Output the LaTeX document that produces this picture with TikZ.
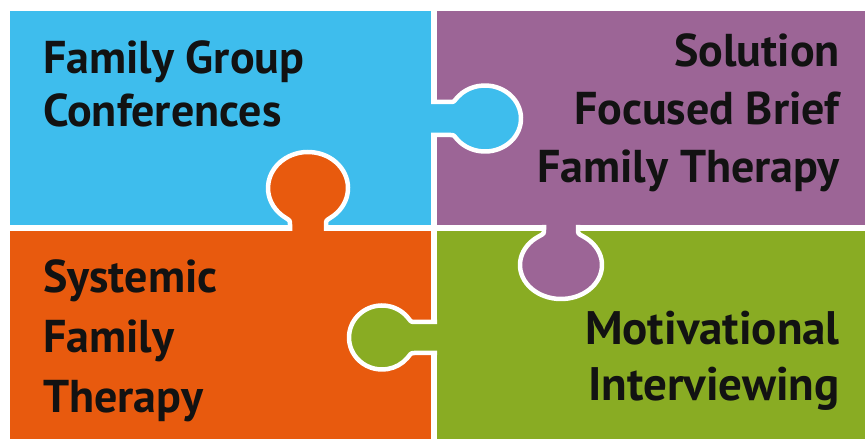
\documentclass[tikz,border=0pt]{standalone}
\usepackage{fontspec}
\setmainfont{PT Sans}
\usepackage{tikz}
\usetikzlibrary{positioning}
\definecolor{groupblue}{RGB}{62,189,237}
\definecolor{briefpurple}{RGB}{156,101,150}
\definecolor{systemorange}{RGB}{232,90,14}
\definecolor{interviewgreen}{RGB}{137,172,35}

% one puzzle tab: #1 colour, #2 edge point, #3 direction,
% #4 bulb offset, #5/#6 bulb radii, #7 half neck width
\newcommand{\puzzletab}[7]{%
  \begin{scope}[shift={#2}, rotate=#3]
    \pgfmathsetmacro\kt{180+asin((#7+5)/#6)}
    \pgfmathsetmacro\ku{720-\kt}
    \pgfmathsetmacro\px{#4+#5*cos(\kt)}
    \pgfmathsetmacro\py{#6*sin(\kt)}
    \pgfmathsetmacro\dx{-0.15*#5*sin(\kt)}
    \pgfmathsetmacro\dy{0.15*#6*cos(\kt)}
    \pgfmathsetmacro\qy{\dy-\py}
    \def\tabpath{(\px-7,-#7) .. controls (\px-3,-#7) and (\px-\dx,\py-\dy) .. (\px,\py)
      arc[start angle=\kt, end angle=\ku, x radius=#5, y radius=#6]
      .. controls (\px-\dx,\qy) and (\px-3,#7) .. (\px-7,#7)}
    \fill[#1] (-1,-#7) -- \tabpath -- (-1,#7) -- cycle;
    \draw[tabline] (0,-#7) -- \tabpath -- (0,#7);
  \end{scope}}

\begin{document}
\begin{tikzpicture}[
  x=1pt, y=1pt,
  tabline/.style={white, line width=4.5pt},
  piecetext/.style={inner sep=0pt, text=black!93, font=\fontsize{46}{58}\selectfont\bfseries}
]
  \useasboundingbox[fill=white] (0,0) rectangle (865,439);

  % the four pieces
  \fill[groupblue] (10,214) rectangle (431,428);
  \fill[briefpurple] (437,214) rectangle (865,428);
  \fill[systemorange] (10,0) rectangle (431,208);
  \fill[interviewgreen] (437,0) rectangle (865,208);

  % tabs reaching into the next piece
  \puzzletab{groupblue}{(431,320.5)}{0}{54}{36}{33}{16.5}
  \puzzletab{systemorange}{(308,208)}{90}{43}{36}{40}{18}
  \puzzletab{briefpurple}{(561,214)}{-90}{40}{34}{41}{17}
  \puzzletab{interviewgreen}{(437,101.5)}{180}{55}{33}{32}{15.5}

  % labels, placed by the baseline of their last line
  \node[piecetext, anchor=base west, align=left, font=\fontsize{46}{53}\selectfont\bfseries]
    (conferences) at (43,312) {Family Group\\Conferences};
  \node[piecetext, anchor=base east, align=right]
    (solution) at (840,256) {Solution\\Focused Brief\\Family Therapy};
  \node[piecetext, anchor=base west, align=left, font=\fontsize{46}{60}\selectfont\bfseries]
    (systemic) at (43,26) {Systemic\\Family\\Therapy};
  \node[piecetext, anchor=base east, align=right, font=\fontsize{47}{56}\selectfont\bfseries]
    (motivational) at (840,38) {Motivational\\Interviewing};
\end{tikzpicture}
\end{document}
